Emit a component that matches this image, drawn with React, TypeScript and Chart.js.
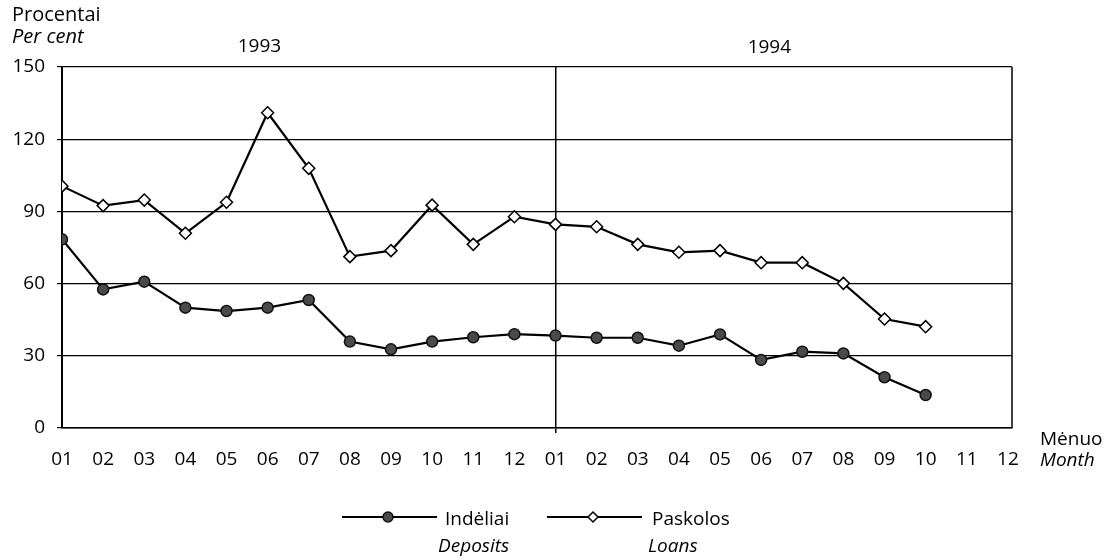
import React, { useEffect, useRef } from "react";
import { Chart, registerables } from "chart.js";

Chart.register(...registerables);

const monthLabels = [
  "01", "02", "03", "04", "05", "06", "07", "08", "09", "10", "11", "12",
  "01", "02", "03", "04", "05", "06", "07", "08", "09", "10", "11", "12",
];
const yearLabels = ["1993", "1994"];
const depositsValues = [
  78.4, 57.6, 60.8, 50, 48.6, 50, 53.2, 35.9, 32.7, 35.9, 37.7, 39,
  38.4, 37.5, 37.5, 34.2, 38.9, 28.3, 31.7, 31, 21.1, 13.7,
];
const loansValues = [
  100.5, 92.4, 94.7, 80.9, 93.8, 131, 107.9, 71.2, 73.7, 92.6, 76.3, 87.8,
  84.6, 83.6, 76.3, 73, 73.7, 68.7, 68.7, 60.1, 45.3, 42.1,
];
const yTicks = [0, 30, 60, 90, 120, 150];

const FONT = '"Open Sans", "DejaVu Sans", sans-serif';

const textPlugin = {
  id: "texts",
  afterDraw(chart: any) {
    const ctx = chart.ctx;
    const area = chart.chartArea;
    const xs = chart.scales.x;
    ctx.save();
    // right border
    ctx.strokeStyle = "#000";
    ctx.lineWidth = 1.5;
    ctx.beginPath();
    ctx.moveTo(area.right, area.top);
    ctx.lineTo(area.right, area.bottom);
    ctx.stroke();

    ctx.fillStyle = "#000";
    ctx.textBaseline = "alphabetic";
    ctx.textAlign = "left";
    ctx.font = `20px ${FONT}`;
    ctx.fillText("Procentai", 12, 21);
    ctx.font = `italic 20px ${FONT}`;
    ctx.fillText("Per cent", 12, 43);

    ctx.textAlign = "center";
    ctx.font = `19px ${FONT}`;
    ctx.fillText(yearLabels[0], xs.getPixelForValue(4.8), 52);
    ctx.fillText(yearLabels[1], xs.getPixelForValue(17.2), 53);

    ctx.textAlign = "left";
    ctx.font = `19px ${FONT}`;
    ctx.fillText("Mėnuo", 1040, 445);
    ctx.font = `italic 19px ${FONT}`;
    ctx.fillText("Month", 1040, 466);

    // legend
    const ly = 517;
    ctx.strokeStyle = "#000";
    ctx.lineWidth = 2;
    ctx.beginPath();
    ctx.moveTo(342, ly);
    ctx.lineTo(437, ly);
    ctx.moveTo(547, ly);
    ctx.lineTo(642, ly);
    ctx.stroke();
    ctx.lineWidth = 1.5;
    ctx.fillStyle = "#4a4a4a";
    ctx.beginPath();
    ctx.arc(388, ly, 5, 0, Math.PI * 2);
    ctx.fill();
    ctx.strokeStyle = "#111";
    ctx.stroke();
    ctx.fillStyle = "#fff";
    ctx.strokeStyle = "#000";
    ctx.beginPath();
    ctx.moveTo(593, ly - 5);
    ctx.lineTo(598, ly);
    ctx.lineTo(593, ly + 5);
    ctx.lineTo(588, ly);
    ctx.closePath();
    ctx.fill();
    ctx.stroke();

    ctx.fillStyle = "#000";
    ctx.font = `19px ${FONT}`;
    ctx.fillText("Indėliai", 445, 525);
    ctx.fillText("Paskolos", 652, 525);
    ctx.font = `italic 19px ${FONT}`;
    ctx.fillText("Deposits", 438, 552);
    ctx.fillText("Loans", 648, 552);
    ctx.restore();
  },
};

export default function App() {
  const ref = useRef<HTMLCanvasElement | null>(null);
  useEffect(() => {
    document.body.style.margin = "0";
    const canvas = ref.current;
    if (!canvas) return;
    const chart = new Chart(canvas, {
      type: "line",
      data: {
        datasets: [
          {
            label: "Indėliai",
            data: depositsValues.map((v, i) => ({ x: i, y: v })),
            borderColor: "#000",
            borderWidth: 2.2,
            pointStyle: "circle",
            pointRadius: 5.5,
            pointBackgroundColor: "#4a4a4a",
            pointBorderColor: "#111",
            pointBorderWidth: 1.5,
            tension: 0,
          },
          {
            label: "Paskolos",
            data: loansValues.map((v, i) => ({ x: i, y: v })),
            borderColor: "#000",
            borderWidth: 2.2,
            pointStyle: "rectRot",
            pointRadius: 6,
            pointBackgroundColor: "#fff",
            pointBorderColor: "#000",
            pointBorderWidth: 1.5,
            tension: 0,
          },
        ],
      },
      options: {
        responsive: false,
        animation: false,
        layout: { padding: { top: 67, right: 100, left: 0, bottom: 0 } },
        plugins: {
          legend: { display: false },
          tooltip: { enabled: false },
          title: { display: false },
        },
        scales: {
          x: {
            type: "linear",
            min: 0,
            max: 23.1,
            afterFit: (s: any) => {
              s.height = 132;
            },
            grid: {
              color: (c: any) => (c.tick && c.tick.value === 12 ? "#000" : "rgba(0,0,0,0)"),
              lineWidth: 1.5,
              tickLength: 5,
            },
            border: { display: true, color: "#000", width: 1.5 },
            ticks: {
              stepSize: 1,
              autoSkip: false,
              maxRotation: 0,
              includeBounds: false,
              padding: 15,
              color: "#000",
              font: { family: FONT, size: 19 },
              callback: (v: any) => monthLabels[v as number] ?? "",
            },
          },
          y: {
            min: 0,
            max: 150,
            afterFit: (s: any) => {
              s.width = 62;
            },
            afterBuildTicks: (s: any) => {
              s.ticks = yTicks.map((v) => ({ value: v }));
            },
            grid: { color: "#000", lineWidth: 1.2, tickLength: 5 },
            border: { display: true, color: "#000", width: 2 },
            ticks: {
              padding: 12,
              color: "#000",
              font: { family: FONT, size: 19 },
            },
          },
        },
      },
      plugins: [textPlugin],
    } as any);
    return () => chart.destroy();
  }, []);
  return (
    <div style={{ position: "absolute", left: 0, top: 0, width: 1112, height: 560, background: "#fff" }}>
      <canvas ref={ref} width={1112} height={560} />
    </div>
  );
}
